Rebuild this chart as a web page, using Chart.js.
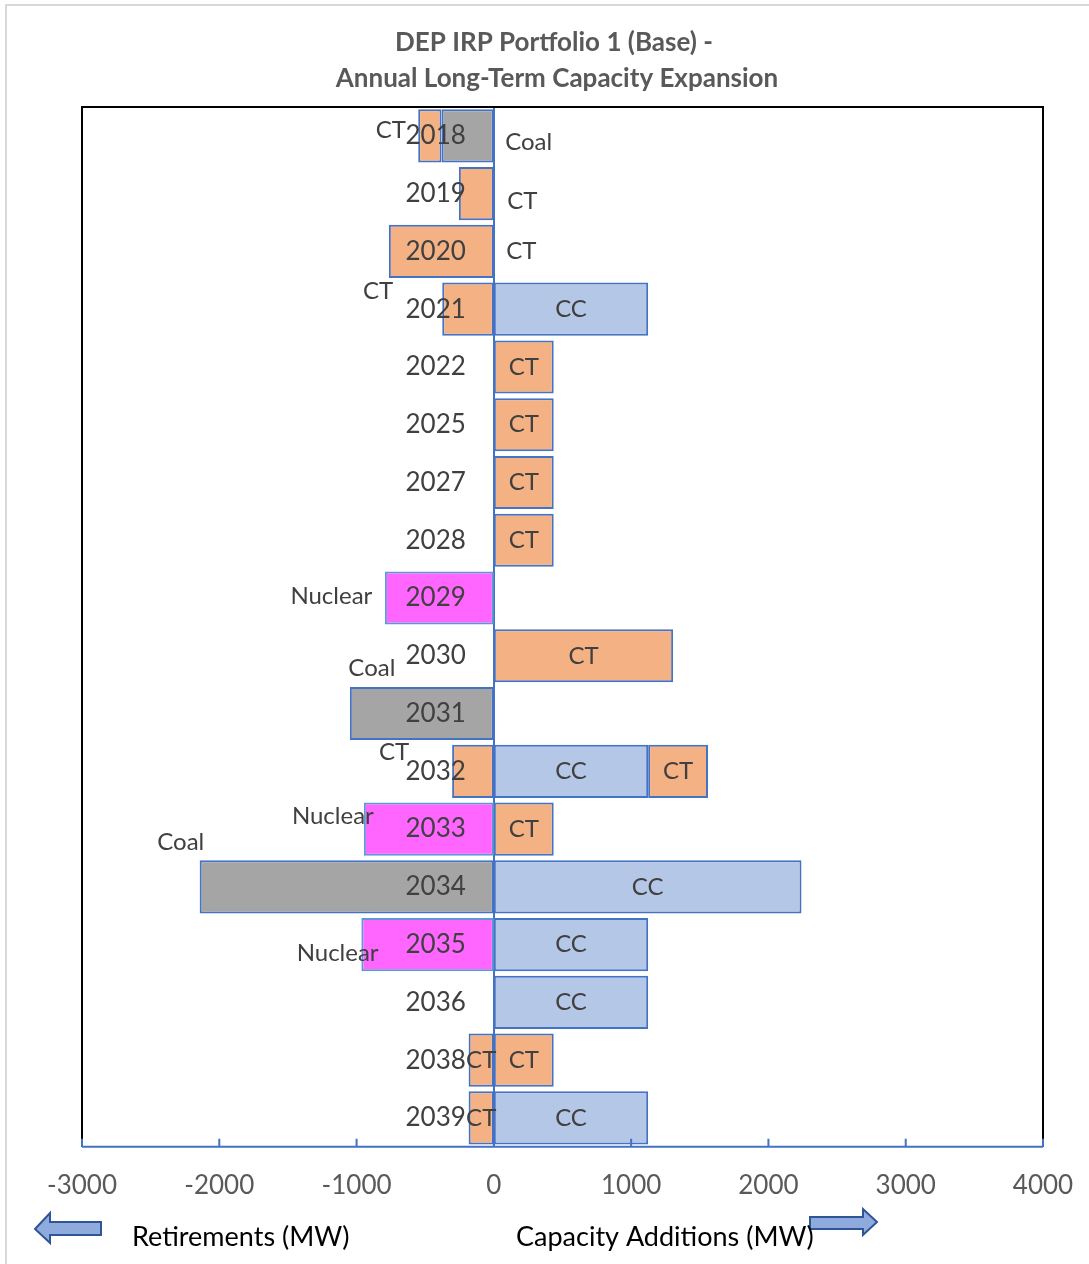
<!DOCTYPE html>
<html>
<head>
<meta charset="utf-8">
<script src="https://cdn.jsdelivr.net/npm/chart.js@4.4.1/dist/chart.umd.min.js"></script>
<style>
  body { margin: 0; background: #fff; }
  canvas { display: block; }
</style>
</head>
<body>
<canvas id="capacityChart" width="1089" height="1264"></canvas>
<script>
// years on the category axis
var years = ['2018', '2019', '2020', '2021', '2022', '2025', '2027', '2028', '2029',
             '2030', '2031', '2032', '2033', '2034', '2035', '2036', '2038', '2039'];

// retirements (MW, negative)
var coalRetired    = [-381, null, null, null, null, null, null, null, null, null, -1049, null, null, -2143, null, null, null, null];
var ctRetired      = [-170, -255, -765, -376, null, null, null, null, null, null, null, -304, null, null, null, null, -184, -184];
var nuclearRetired = [null, null, null, null, null, null, null, null, -794, null, null, null, -947, null, -965, null, null, null];

// additions (MW, positive)
var ccAdded = [null, null, null, 1124, null, null, null, null, null, null, null, 1124, null, 2241, 1124, 1124, null, 1124];
var ctAdded = [null, null, null, null, 436, 436, 436, 436, null, 1306, null, 436, 436, null, null, null, 436, null];

var xTicks = [-3000, -2000, -1000, 0, 1000, 2000, 3000, 4000];

var titleLines = ['DEP IRP Portfolio 1 (Base) -', 'Annual Long-Term Capacity Expansion'];

// labels that were dragged away from the middle of their bar: [dx, dy] in px
var labelNudges = {
    'coalRet:2018': [61, 6],
    'ctRet:2018': [-39, -6],
    'ctRet:2019': [46, 8],
    'ctRet:2020': [80, 0],
    'ctRet:2021': [-90, -18],
    'nucRet:2029': [-108, -2],
    'coalRet:2031': [-50, -45],
    'ctRet:2032': [-79, -19],
    'nucRet:2033': [-96, -13],
    'coalRet:2034': [-166, -45],
    'nucRet:2035': [-90, 9]
};

var FONT = 'Lato, "Open Sans", sans-serif';
var LABEL_COLOR = '#404040';

var segmentLabels = {
    id: 'segmentLabels',
    afterDatasetsDraw: function(chart) {
        var ctx = chart.ctx;
        var xScale = chart.scales.x;
        var yScale = chart.scales.y;
        var x0 = xScale.getPixelForValue(0);
        ctx.save();

        // year names sit just left of the zero line, over the bars
        ctx.font = '26px ' + FONT;
        ctx.fillStyle = LABEL_COLOR;
        ctx.textAlign = 'right';
        ctx.textBaseline = 'middle';
        years.forEach(function(yr, i) {
            ctx.fillText(yr, x0 - 28, yScale.getPixelForValue(i));
        });

        // series names in each segment
        ctx.font = '24px ' + FONT;
        ctx.textAlign = 'center';
        chart.data.datasets.forEach(function(ds, di) {
            var meta = chart.getDatasetMeta(di);
            meta.data.forEach(function(bar, i) {
                if (ds.data[i] === null) return;
                var nudge = labelNudges[ds.key + ':' + years[i]] || [0, 0];
                var cx = (bar.x + bar.base) / 2 + nudge[0];
                var cy = bar.y + nudge[1];
                ctx.fillText(ds.label, cx, cy);
            });
        });
        ctx.restore();
    },
    afterDraw: function(chart) {
        var ctx = chart.ctx;
        var area = chart.chartArea;
        var xScale = chart.scales.x;
        ctx.save();

        // outer frame
        ctx.strokeStyle = '#d9d9d9';
        ctx.lineWidth = 2;
        ctx.strokeRect(6, 5, 1200, 1400);

        // two-line title
        ctx.fillStyle = '#595959';
        ctx.font = 'bold 26px ' + FONT;
        ctx.textAlign = 'center';
        ctx.textBaseline = 'middle';
        ctx.fillText(titleLines[0], 554, 43);
        ctx.fillText(titleLines[1], 557, 79);

        // plot frame: black top / sides
        ctx.strokeStyle = '#000';
        ctx.lineWidth = 2;
        ctx.beginPath();
        ctx.moveTo(area.left, area.bottom);
        ctx.lineTo(area.left, area.top);
        ctx.lineTo(area.right, area.top);
        ctx.lineTo(area.right, area.bottom);
        ctx.stroke();

        // bottom axis with inside tick marks
        ctx.strokeStyle = '#4472C4';
        ctx.beginPath();
        ctx.moveTo(area.left, area.bottom);
        ctx.lineTo(area.right, area.bottom);
        xTicks.forEach(function(v) {
            var px = xScale.getPixelForValue(v);
            ctx.moveTo(px, area.bottom);
            ctx.lineTo(px, area.bottom - 8);
        });
        ctx.stroke();

        // direction arrows
        ctx.fillStyle = '#8FAADC';
        ctx.strokeStyle = '#2F5597';
        ctx.lineWidth = 2;
        ctx.lineJoin = 'miter';
        ctx.beginPath();
        ctx.moveTo(35, 1229);
        ctx.lineTo(50, 1213);
        ctx.lineTo(50, 1222);
        ctx.lineTo(101, 1222);
        ctx.lineTo(101, 1235);
        ctx.lineTo(50, 1235);
        ctx.lineTo(50, 1243);
        ctx.closePath();
        ctx.fill();
        ctx.stroke();

        ctx.beginPath();
        ctx.moveTo(877, 1222);
        ctx.lineTo(863, 1209);
        ctx.lineTo(863, 1217);
        ctx.lineTo(810, 1217);
        ctx.lineTo(810, 1229);
        ctx.lineTo(863, 1229);
        ctx.lineTo(863, 1235);
        ctx.closePath();
        ctx.fill();
        ctx.stroke();

        ctx.font = '27px ' + FONT;
        ctx.fillStyle = '#000';
        ctx.textAlign = 'left';
        ctx.textBaseline = 'middle';
        ctx.fillText('Retirements (MW)', 132, 1237);
        ctx.fillText('Capacity Additions (MW)', 516, 1237);
        ctx.restore();
    }
};

var ctx = document.getElementById('capacityChart').getContext('2d');

function series(key, label, data, fill, edge) {
    return {
        key: key,
        label: label,
        data: data,
        backgroundColor: fill,
        borderColor: edge,
        borderWidth: 2,
        borderSkipped: false,
        barPercentage: 0.92,
        categoryPercentage: 1.0
    };
}

new Chart(ctx, {
    type: 'bar',
    data: {
        labels: years,
        datasets: [
            series('coalRet', 'Coal', coalRetired, '#A5A5A5', '#4472C4'),
            series('ctRet', 'CT', ctRetired, '#F4B183', '#4472C4'),
            series('nucRet', 'Nuclear', nuclearRetired, '#FF66FF', '#5B9BD5'),
            series('ccAdd', 'CC', ccAdded, '#B4C7E7', '#4472C4'),
            series('ctAdd', 'CT', ctAdded, '#F4B183', '#4472C4')
        ]
    },
    options: {
        indexAxis: 'y',
        responsive: false,
        animation: false,
        devicePixelRatio: 1,
        layout: {
            padding: { left: 82, right: 46, top: 107, bottom: 63 }
        },
        plugins: {
            legend: { display: false },
            tooltip: { enabled: false },
            title: { display: false }
        },
        scales: {
            x: {
                stacked: true,
                min: -3000,
                max: 4000,
                // tick length only spaces the labels down; the grid itself is hidden
                grid: { display: false, drawTicks: true, tickLength: 23 },
                border: { display: false },
                ticks: {
                    stepSize: 1000,
                    padding: 0,
                    color: '#595959',
                    font: { family: FONT, size: 26 },
                    maxRotation: 0,
                    callback: function(value) { return String(value); }
                }
            },
            y: {
                stacked: true,
                position: { x: 0 },
                z: 1,
                grid: { display: false, drawTicks: false },
                border: { display: true, color: '#4472C4', width: 2 },
                ticks: { display: false }
            }
        }
    },
    plugins: [segmentLabels]
});
</script>
</body>
</html>
